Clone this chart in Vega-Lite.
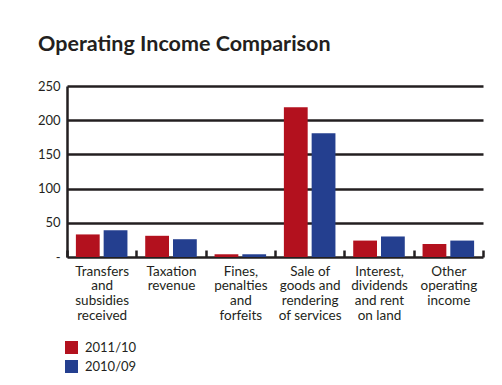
{
  "$schema": "https://vega.github.io/schema/vega-lite/v6.json",
  "width": 416,
  "height": 171,
  "autosize": "none",
  "padding": {"left": 67, "top": 86, "right": 19, "bottom": 128},
  "background": "white",
  "title": {
    "text": "Operating Income Comparison",
    "anchor": "start",
    "frame": "group",
    "dx": -29,
    "offset": 25,
    "font": "Lato",
    "fontSize": 21.5,
    "fontWeight": "bold",
    "color": "#231f20"
  },
  "data": {
    "values": [
      {"category": "Transfers and subsidies received", "period": "2011/10", "value": 33},
      {"category": "Transfers and subsidies received", "period": "2010/09", "value": 39},
      {"category": "Taxation revenue", "period": "2011/10", "value": 31},
      {"category": "Taxation revenue", "period": "2010/09", "value": 26},
      {"category": "Fines, penalties and forfeits", "period": "2011/10", "value": 4},
      {"category": "Fines, penalties and forfeits", "period": "2010/09", "value": 4},
      {"category": "Sale of goods and rendering of services", "period": "2011/10", "value": 219},
      {"category": "Sale of goods and rendering of services", "period": "2010/09", "value": 181},
      {"category": "Interest, dividends and rent on land", "period": "2011/10", "value": 24},
      {"category": "Interest, dividends and rent on land", "period": "2010/09", "value": 30},
      {"category": "Other operating income", "period": "2011/10", "value": 19},
      {"category": "Other operating income", "period": "2010/09", "value": 24}
    ]
  },
  "mark": {"type": "bar"},
  "encoding": {
    "x": {
      "field": "category",
      "type": "nominal",
      "sort": null,
      "scale": {"paddingInner": 0, "paddingOuter": 0},
      "axis": {
        "title": null,
        "offset": -7,
        "domain": false,
        "labelAngle": 0,
        "labelAlign": "center",
        "labelBaseline": "top",
        "labelPadding": 7,
        "labelFont": "Lato",
        "labelFontSize": 13.5,
        "labelColor": "#231f20",
        "labelLineHeight": 14.7,
        "labelLimit": 0,
        "tickBand": "extent",
        "tickSize": 7,
        "tickWidth": 2.5,
        "tickColor": "#231f20",
        "labelExpr": "datum.value == 'Transfers and subsidies received' ? ['Transfers','and','subsidies','received'] : datum.value == 'Taxation revenue' ? ['Taxation','revenue'] : datum.value == 'Fines, penalties and forfeits' ? ['Fines,','penalties','and','forfeits'] : datum.value == 'Sale of goods and rendering of services' ? ['Sale of','goods and','rendering','of services'] : datum.value == 'Interest, dividends and rent on land' ? ['Interest,','dividends','and rent','on land'] : datum.value == 'Other operating income' ? ['Other','operating','income'] : ''"
      }
    },
    "xOffset": {
      "field": "period",
      "type": "nominal",
      "sort": ["2011/10", "2010/09"],
      "scale": {"paddingInner": 0.143, "paddingOuter": 0.32}
    },
    "y": {
      "field": "value",
      "type": "quantitative",
      "scale": {"domain": [0, 250], "nice": false},
      "axis": {
        "title": null,
        "values": [0, 50, 100, 150, 200, 250],
        "labelExpr": "datum.value == 0 ? '-' : datum.label",
        "labelFont": "Lato",
        "labelFontSize": 13,
        "labelColor": "#231f20",
        "labelPadding": 7,
        "ticks": false,
        "grid": true,
        "gridColor": "#231f20",
        "gridWidth": 2.5,
        "domainColor": "#231f20",
        "domainWidth": 2.5
      }
    },
    "color": {
      "field": "period",
      "type": "nominal",
      "sort": ["2011/10", "2010/09"],
      "scale": {"range": ["#b3111e", "#243f8f"]},
      "legend": {
        "title": null,
        "orient": "none",
        "legendX": -2,
        "legendY": 255,
        "symbolType": "square",
        "symbolSize": 169,
        "symbolStrokeWidth": 0,
        "symbolOpacity": 1,
        "labelFont": "Lato",
        "labelFontSize": 13,
        "labelColor": "#231f20",
        "rowPadding": 5,
        "labelOffset": 7
      }
    }
  },
  "config": {
    "view": {"stroke": null}
  }
}
